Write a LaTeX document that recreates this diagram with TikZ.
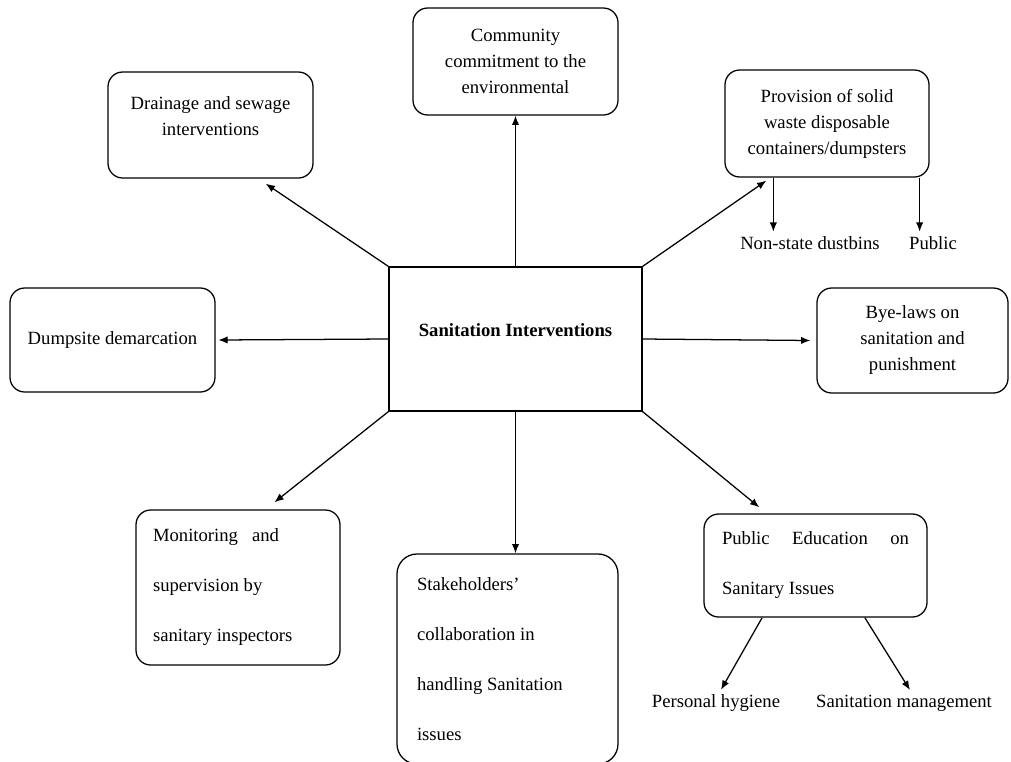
\documentclass[tikz,border=0pt]{standalone}
\usepackage{fontspec}
\setmainfont{Liberation Serif}
\usetikzlibrary{arrows.meta}

\begin{document}
\begin{tikzpicture}[x = 0.75pt, y = -0.75pt,
    every node/.style = {font = \fontsize{14}{19.5}\selectfont},
    box/.style = {draw, line width = 0.95pt, rounded corners = 11pt, align = center, inner sep = 0pt},
    dbl/.style = {font = \fontsize{14}{37.5}\selectfont, align = flush left},
    arr/.style = {line width = 0.95pt, -{Latex[length = 7pt, width = 5.5pt]}}]
    \useasboundingbox (+0.0, +0.0) rectangle (+1011.0, +761.0);

    % Centre
    \node[draw, line width = 0.95pt, minimum width = 189.75pt, minimum height = 108pt, font = \bfseries\fontsize{14}{19.5}\selectfont, text height = 9.5pt, text depth = 13.5pt] (ctr) at (+515.5, +339.0) {Sanitation Interventions};

    % Boxes round it
    \node[box, minimum width = 153.75pt, minimum height = 80.25pt] (comm) at (+515.5, +61.5) {Community\\commitment to the\\environmental};
    %
    \node[box, minimum width = 153.75pt, minimum height = 79.5pt, text depth = 13.5pt] (drain) at (+210.5, +125.0) {Drainage and sewage\\interventions};
    %
    \node[box, minimum width = 153pt, minimum height = 80.25pt] (prov) at (+827.0, +123.5) {Provision of solid\\waste disposable\\containers/dumpsters};
    %
    \node[box, minimum width = 153.75pt, minimum height = 78pt] (dump) at (+112.5, +340.0) {Dumpsite demarcation};
    %
    \node[box, minimum width = 143.25pt, minimum height = 78.75pt] (bye) at (+912.5, +340.5) {Bye-laws on\\sanitation and\\punishment};
    %
    \node[box, dbl, text width = 127.5pt, inner xsep = 12.75pt, minimum height = 116.25pt] (mon) at (+238.0, +587.5) {\makebox[94.5pt][l]{Monitoring\hfill and}\\supervision by\\sanitary inspectors};
    %
    \node[box, dbl, rounded corners = 15pt, text width = 135.75pt, inner xsep = 15pt, minimum height = 157.5pt] (stake) at (+507.5, +659.0) {Stakeholders'\\collaboration in\\handling Sanitation\\issues};
    %
    \node[box, dbl, text width = 140.25pt, inner xsep = 13.5pt, minimum height = 77.25pt] (pub) at (+815.5, +565.5) {\makebox[140.25pt][l]{Public\hfill Education\hfill on}\\Sanitary Issues};

    % Sub-items
    \node (nonstate) at (+810.0, +243.0) {Non-state dustbins};
    %
    \node (public) at (+933.0, +243.0) {Public};
    %
    \node (pers) at (+716.0, +703.0) {Personal hygiene};
    %
    \node (mgmt) at (+904.0, +703.0) {Sanitation management};

    % Arrows
    \draw[arr] (ctr.north) -- (comm.south);
    %
    \draw[arr] (ctr.north west) -- ([xshift = -36pt, yshift = -3.75pt] drain.south east);
    %
    \draw[arr] (ctr.north east) -- ([xshift = 31.5pt, yshift = -2.25pt] prov.south west);
    %
    \draw[arr] (ctr.west) -- ([xshift = 2pt] dump.east);
    %
    \draw[arr] (ctr.east) -- ([xshift = -4.5pt] bye.west);
    %
    \draw[arr] (ctr.south west) -- ([xshift = 104.25pt, yshift = 5.25pt] mon.north west);
    %
    \draw[arr] (ctr.south) -- (ctr.south |- stake.north);
    %
    \draw[arr] (ctr.south east) -- ([xshift = 42pt, yshift = 4.5pt] pub.north west);

    \coordinate (nsTop) at ([xshift = 36.75pt] prov.south west);
    \coordinate (pbTop) at ([xshift = -7.5pt] prov.south east);
    \draw[arr] (nsTop) -- (nsTop |- nonstate.north);
    %
    \draw[arr] (pbTop) -- (pbTop |- public.north);
    %
    \draw[arr] ([xshift = -40pt] pub.south) -- ([xshift = 3.75pt] pers.north);
    %
    \draw[arr] ([xshift = 37pt] pub.south) -- ([xshift = 4.5pt] mgmt.north);
\end{tikzpicture}
\end{document}
